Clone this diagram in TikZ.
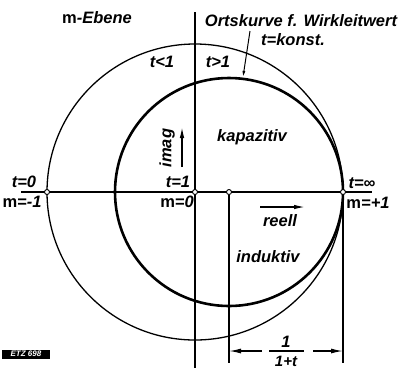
\documentclass[tikz,border=0pt]{standalone}
\usepackage{fontspec}
\setmainfont{Liberation Sans}
\usetikzlibrary{arrows.meta}
\begin{document}
\begin{tikzpicture}[x=1pt,y=-1pt,
  lbl/.style={font=\fontsize{16.5}{16.5}\selectfont\bfseries\itshape, inner sep=0pt},
  thin/.style={line width=1.3pt},
  thick/.style={line width=2.6pt},
  axis/.style={line width=1.6pt},
  pt/.style={circle, draw, fill=white, line width=0.9pt, inner sep=0pt, minimum size=5pt},
  bigarrow/.style={-{Latex[length=11pt,width=4.5pt]}, line width=1.3pt},
  dimarrow/.style={-{Latex[length=12pt,width=5pt]}, line width=1.3pt}]
\useasboundingbox (0,0) rectangle (403,368);
% axes
\coordinate (ytop) at (195,12);
\coordinate (ybot) at (195,368);
\coordinate (xl) at (21,192);
\coordinate (xr) at (372,192);
\draw[axis] (ytop) -- (ybot);
\draw[axis] (xl) -- (xr);
% circles
\draw[thin] (195,192) circle[radius=148];
\draw[thick] (229,192) circle[radius=114];
% dimension
\node[pt] (pc) at (229,192) {};
\node[pt] (pr) at (343,192) {};
\node[pt] (pl) at (47,192) {};
\node[pt] (po) at (195,192) {};
\coordinate (dcl) at (229,363);
\coordinate (dcr) at (343,363);
\draw[thin] (pc) -- (dcl);
\draw[thin] (pr) -- (dcr);
\coordinate (dl) at (229,351);
\coordinate (dr) at (343,351);
\coordinate (dla) at (262,351);
\coordinate (dra) at (313,351);
\draw[dimarrow] (dla) -- (dl);
\draw[dimarrow] (dra) -- (dr);
\node[lbl, anchor=base] (f1) at (286,347) {1};
\node[lbl, anchor=base, font=\fontsize{15}{15}\selectfont\bfseries\itshape] (f2) at (286,366) {1+t};
\coordinate (bl) at (269,351);
\coordinate (br) at (304,351);
\draw[thin] (bl) -- (br);
% labels
\node[lbl] (ebene) at (97,18) {\upshape m\itshape-Ebene};
\node[lbl] (orts) at (301,21) {Ortskurve f. Wirkleitwert};
\node[lbl] (konst) at (293,40) {t=konst.};
\coordinate (oa) at (250,31);
\coordinate (ob) at (243,77);
\draw[-{Latex[length=6pt,width=3pt]}, line width=1pt] (oa) -- (ob);
\node[lbl] (tl) at (162,62) {t<1};
\node[lbl] (tg) at (218,62) {t>1};
\node[lbl, rotate=90] (imag) at (167,148) {imag};
\coordinate (ia) at (182,167);
\coordinate (ib) at (182,127);
\draw[bigarrow] (ia) -- (ib);
\node[lbl] (kap) at (252,137) {kapazitiv};
\node[lbl] (ind) at (268,257) {induktiv};
\node[lbl] (reell) at (280,221) {reell};
\coordinate (ra) at (260,207);
\coordinate (rb) at (305,207);
\draw[bigarrow] (ra) -- (rb);
\node[lbl] (t0) at (24,182) {t=0};
\node[lbl] (m1) at (22,202) {\upshape m\itshape=-1};
\node[lbl] (t1) at (178,182) {t=1};
\node[lbl] (m0) at (177,202) {\upshape m\itshape=0};
\node[lbl] (tinf) at (362,183) {t=∞};
\node[lbl] (mp1) at (368,203) {\upshape m\itshape=+1};
\node[fill=black, text=white, inner sep=0pt, font=\fontsize{8}{8}\selectfont\bfseries\itshape, minimum width=48pt, minimum height=9pt] (etz) at (26,354) {ETZ 698};
\end{tikzpicture}
\end{document}
